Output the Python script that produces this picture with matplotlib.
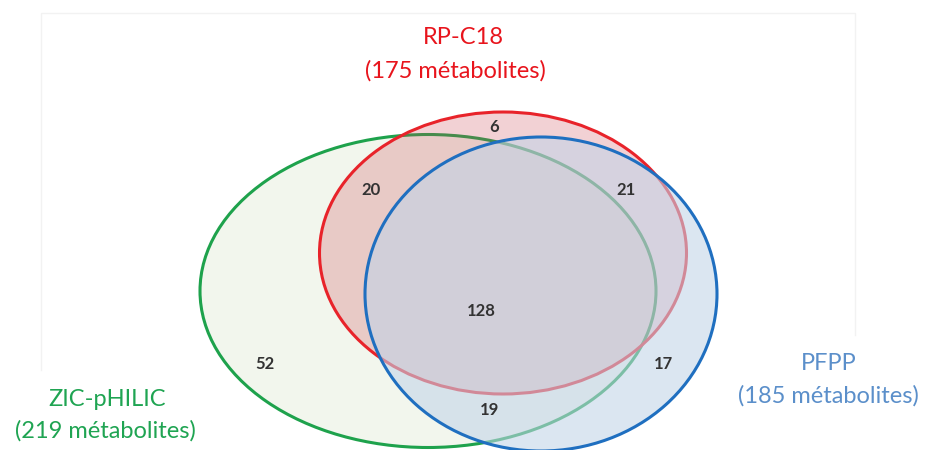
import matplotlib
matplotlib.use("Agg")
import matplotlib.pyplot as plt
from matplotlib.patches import Ellipse

# data
set_names = ["ZIC-pHILIC", "RP-C18", "PFPP"]
set_sizes = [219, 175, 185]
region_keys = ["only_zic", "only_rp", "only_pfpp", "zic_rp", "rp_pfpp", "zic_pfpp", "all"]
region_counts = [52, 6, 17, 20, 21, 19, 128]

# layout (pixel coords, y down)
ellipses = {
    "ZIC-pHILIC": dict(xy=(428, 291), w=456, h=313, edge="#1ea24c", face=(0.60, 0.72, 0.42, 0.12)),
    "RP-C18": dict(xy=(503, 253), w=367, h=282, edge="#e8232a", face=(0.80, 0.26, 0.30, 0.24)),
    "PFPP": dict(xy=(541, 294), w=352, h=314, edge="#1f6fc0", face=(0.76, 0.83, 0.91, 0.58)),
}
region_pos = {
    "only_zic": (265, 364), "only_rp": (494, 127), "only_pfpp": (663, 364),
    "zic_rp": (371, 190), "rp_pfpp": (626, 190), "zic_pfpp": (490, 410), "all": (481, 311),
}
label_pos = {
    "ZIC-pHILIC": ((107, 400), (105, 431), "#1fa452"),
    "RP-C18": ((463, 37), (455, 71), "#e8141c"),
    "PFPP": ((829, 364), (828, 396), "#5b8fca"),
}

plt.rcParams["font.family"] = ["Lato", "DejaVu Sans"]

fig = plt.figure(figsize=(9.28, 4.5), dpi=100)
ax = fig.add_axes([0, 0, 1, 1])
ax.set_xlim(0, 928)
ax.set_ylim(450, 0)
ax.axis("off")

# faint frame left over from the source image
ax.plot([41, 41, 855, 855], [370, 13, 13, 335], color="#f2f2f2", lw=1)

for name in set_names:
    e = ellipses[name]
    ax.add_patch(Ellipse(e["xy"], e["w"], e["h"], facecolor=e["face"],
                         edgecolor=e["edge"], linewidth=2.2))

for key, n in zip(region_keys, region_counts):
    x, y = region_pos[key]
    ax.text(x, y, str(n), ha="center", va="center", fontsize=12,
            fontweight="bold", color="#333333")

for name, size in zip(set_names, set_sizes):
    (x1, y1), (x2, y2), c = label_pos[name]
    ax.text(x1, y1, name, ha="center", va="center", fontsize=17, color=c)
    ax.text(x2, y2, f"({size} métabolites)", ha="center", va="center",
            fontsize=17, color=c)

fig.savefig("out.png", dpi=100)
